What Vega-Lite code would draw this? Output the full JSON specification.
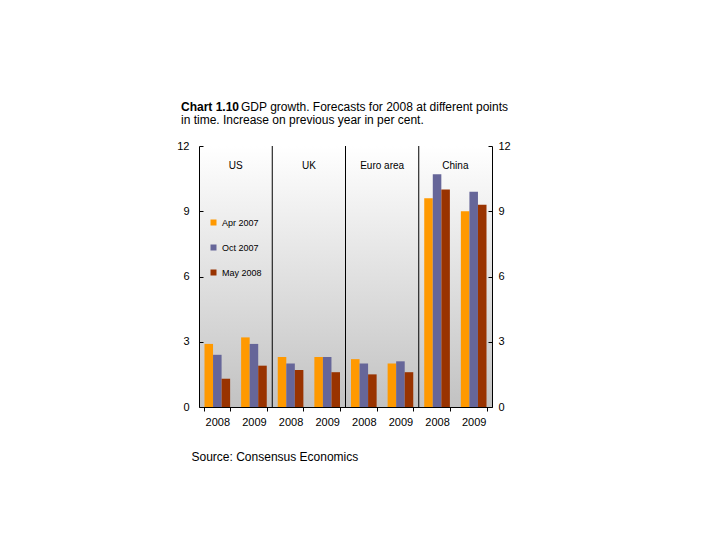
{
  "$schema": "https://vega.github.io/schema/vega-lite/v6.json",
  "width": 293,
  "height": 261,
  "autosize": "none",
  "padding": {"left": 199, "top": 146, "right": 228, "bottom": 133},
  "background": "white",
  "config": {"font": "Liberation Sans"},
  "title": {
    "text": "Chart 1.10",
    "subtitle": [
      "\u200b\u00a0\u00a0\u00a0\u00a0\u00a0\u00a0\u00a0\u00a0\u00a0\u00a0\u00a0\u00a0\u00a0\u00a0\u00a0\u00a0\u00a0\u00a0GDP growth. Forecasts for 2008 at different points",
      "in time. Increase on previous year in per cent."
    ],
    "anchor": "start",
    "frame": "group",
    "dx": -18,
    "offset": 13,
    "fontSize": 12,
    "fontWeight": "bold",
    "color": "black",
    "subtitleFontSize": 12,
    "subtitleColor": "black",
    "subtitleLineHeight": 13.5,
    "subtitlePadding": -12
  },
  "view": {
    "stroke": null,
    "fill": {
      "gradient": "linear",
      "x1": 0, "y1": 0, "x2": 0, "y2": 1,
      "stops": [
        {"offset": 0, "color": "#ffffff"},
        {"offset": 1, "color": "#c2c2c2"}
      ]
    }
  },
  "datasets": {
    "gdp": [
      {"cat": "US 2008", "series": "Apr 2007", "value": 2.9},
      {"cat": "US 2008", "series": "Oct 2007", "value": 2.4},
      {"cat": "US 2008", "series": "May 2008", "value": 1.3},
      {"cat": "US 2009", "series": "Apr 2007", "value": 3.2},
      {"cat": "US 2009", "series": "Oct 2007", "value": 2.9},
      {"cat": "US 2009", "series": "May 2008", "value": 1.9},
      {"cat": "UK 2008", "series": "Apr 2007", "value": 2.3},
      {"cat": "UK 2008", "series": "Oct 2007", "value": 2.0},
      {"cat": "UK 2008", "series": "May 2008", "value": 1.7},
      {"cat": "UK 2009", "series": "Apr 2007", "value": 2.3},
      {"cat": "UK 2009", "series": "Oct 2007", "value": 2.3},
      {"cat": "UK 2009", "series": "May 2008", "value": 1.6},
      {"cat": "Euro area 2008", "series": "Apr 2007", "value": 2.2},
      {"cat": "Euro area 2008", "series": "Oct 2007", "value": 2.0},
      {"cat": "Euro area 2008", "series": "May 2008", "value": 1.5},
      {"cat": "Euro area 2009", "series": "Apr 2007", "value": 2.0},
      {"cat": "Euro area 2009", "series": "Oct 2007", "value": 2.1},
      {"cat": "Euro area 2009", "series": "May 2008", "value": 1.6},
      {"cat": "China 2008", "series": "Apr 2007", "value": 9.6},
      {"cat": "China 2008", "series": "Oct 2007", "value": 10.7},
      {"cat": "China 2008", "series": "May 2008", "value": 10.0},
      {"cat": "China 2009", "series": "Apr 2007", "value": 9.0},
      {"cat": "China 2009", "series": "Oct 2007", "value": 9.9},
      {"cat": "China 2009", "series": "May 2008", "value": 9.3}
    ],
    "countries": [
      {"cat": "US 2008", "country": "US", "y": 11.1},
      {"cat": "UK 2008", "country": "UK", "y": 11.1},
      {"cat": "Euro area 2008", "country": "Euro area", "y": 11.1},
      {"cat": "China 2008", "country": "China", "y": 11.1}
    ],
    "separators": [
      {"cat": "US 2009", "y0": 0, "y1": 12},
      {"cat": "UK 2009", "y0": 0, "y1": 12},
      {"cat": "Euro area 2009", "y0": 0, "y1": 12}
    ]
  },
  "encoding": {
    "x": {
      "field": "cat",
      "type": "nominal",
      "sort": ["US 2008", "US 2009", "UK 2008", "UK 2009", "Euro area 2008", "Euro area 2009", "China 2008", "China 2009"],
      "scale": {"paddingInner": 0.3, "paddingOuter": 0.15},
      "axis": {
        "title": "Source: Consensus Economics",
        "titleFontSize": 12,
        "titleFontWeight": "normal",
        "titleColor": "black",
        "titleAlign": "left",
        "titleAnchor": "start",
        "titleX": -8,
        "titleY": 44,
        "labelAngle": 0,
        "labelExpr": "slice(datum.label, -4)",
        "labelFontSize": 11,
        "labelColor": "black",
        "labelPadding": 5,
        "tickBand": "extent",
        "tickOffset": 5.5,
        "tickColor": "black",
        "tickSize": 4,
        "domainColor": "black",
        "grid": false
      }
    }
  },
  "layer": [
    {
      "data": {"name": "separators"},
      "mark": {"type": "rule", "color": "black", "strokeWidth": 1},
      "encoding": {
        "x": {"field": "cat", "type": "nominal", "bandPosition": 1.2143},
        "y": {"field": "y0", "type": "quantitative", "axis": null},
        "y2": {"field": "y1"}
      }
    },
    {
      "data": {"name": "gdp"},
      "mark": {"type": "bar"},
      "encoding": {
        "y": {
          "field": "value",
          "type": "quantitative",
          "scale": {"domain": [0, 12], "nice": false},
          "axis": {
            "title": null,
            "orient": "left",
            "values": [0, 3, 6, 9, 12],
            "grid": false,
            "domainColor": "black",
            "tickColor": "black",
            "tickSize": -4,
            "labelPadding": 14,
            "labelFontSize": 11,
            "labelColor": "black"
          }
        },
        "xOffset": {
          "field": "series",
          "type": "nominal",
          "sort": ["Apr 2007", "Oct 2007", "May 2008"],
          "scale": {"paddingInner": 0, "paddingOuter": 0}
        },
        "color": {
          "field": "series",
          "type": "nominal",
          "scale": {
            "domain": ["Apr 2007", "Oct 2007", "May 2008"],
            "range": ["#ff9900", "#666699", "#993300"]
          },
          "legend": {
            "title": null,
            "orient": "none",
            "legendX": 10,
            "legendY": 72,
            "symbolType": "square",
            "symbolSize": 36,
            "symbolStrokeWidth": 0,
            "labelFontSize": 9,
            "labelColor": "black",
            "rowPadding": 15,
            "labelOffset": 4
          }
        }
      }
    },
    {
      "data": {"name": "countries"},
      "mark": {"type": "text", "fontSize": 10, "color": "black", "baseline": "middle"},
      "encoding": {
        "x": {"field": "cat", "type": "nominal", "bandPosition": 1.2143},
        "y": {
          "field": "y",
          "type": "quantitative",
          "axis": {
            "title": null,
            "orient": "right",
            "values": [0, 3, 6, 9, 12],
            "grid": false,
            "domainColor": "black",
            "tickColor": "black",
            "tickSize": -4,
            "labelPadding": 10,
            "labelFontSize": 11,
            "labelColor": "black"
          }
        },
        "text": {"field": "country"}
      }
    }
  ],
  "resolve": {"axis": {"y": "independent"}}
}
